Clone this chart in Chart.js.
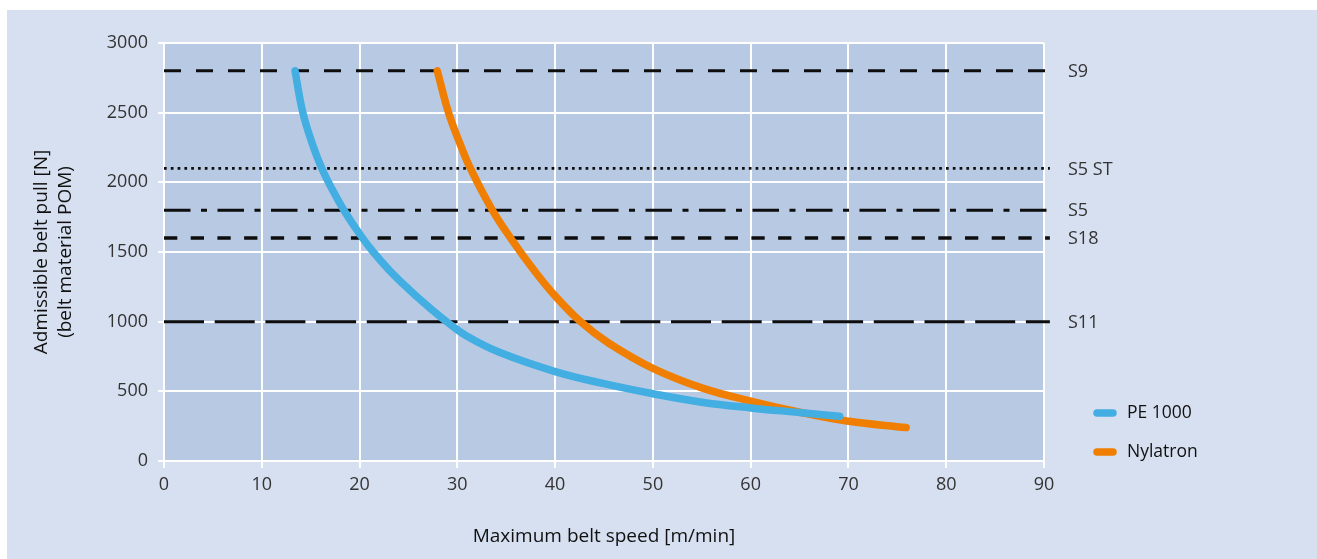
<!DOCTYPE html>
<html>
<head>
<meta charset="utf-8">
<script src="https://cdn.jsdelivr.net/npm/chart.js@4.4.0/dist/chart.umd.min.js"></script>
<style>
  html, body { margin: 0; padding: 0; background: #ffffff; }
  #moldura { position: absolute; left: 7px; top: 10px; width: 1310px; height: 549px; background: #d7e0f0; }
</style>
</head>
<body>
<div id="moldura"><canvas id="grafico" width="1310" height="549"></canvas></div>
<script>
// Dados
const speedPE = [13.4, 14.2, 15.2, 16.2, 17.2, 18.4, 20.2, 21.4, 23.1, 25, 27, 29, 31, 34.3, 40, 45, 50, 55, 60, 65, 69.1];
const pullPE = [2800, 2500, 2270, 2090, 1950, 1800, 1610, 1500, 1365, 1235, 1110, 995, 895, 780, 642, 555, 483, 422, 381, 348, 321];

const speedNylatron = [27.95, 29.1, 30.2, 31.3, 33.5, 35.5, 38, 40, 42.6, 45.5, 50, 55, 60, 65, 70, 75.9];
const pullNylatron = [2800, 2500, 2290, 2105, 1810, 1595, 1355, 1185, 1000, 845, 665, 525, 430, 350, 285, 240];

const seriesNames = ['PE 1000', 'Nylatron'];
const seriesColors = ['#43aee2', '#f07e00'];

// Linhas de referência (tipos de correia)
const refNames = ['S9', 'S5 ST', 'S5', 'S18', 'S11'];
const refValues = [2800, 2100, 1800, 1600, 1000];
const refSpan = [0, 90.6];

const xTicks = [0, 10, 20, 30, 40, 50, 60, 70, 80, 90];
const yTicks = [0, 500, 1000, 1500, 2000, 2500, 3000];

// estilos das linhas de referência
const refStyles = [
    { dash: [17, 15], width: 3 },
    { dash: [2.7, 4.1], width: 2.7 },
    { dash: [26.5, 10.5, 6, 10.5], width: 3 },
    { dash: [13.3, 13.4], width: 3.5 },
    { dash: [40, 10.7], width: 3 }
];

const fonte = '"Open Sans", "Noto Sans", sans-serif';

function pontos(xs, ys) {
    return xs.map((x, i) => ({ x: x, y: ys[i] }));
}

const datasets = [
    {
        label: seriesNames[0],
        data: pontos(speedPE, pullPE),
        borderColor: seriesColors[0],
        borderWidth: 7.5,
        borderCapStyle: 'round',
        borderJoinStyle: 'round',
        tension: 0.4,
        pointRadius: 0,
        fill: false
    },
    {
        label: seriesNames[1],
        data: pontos(speedNylatron, pullNylatron),
        borderColor: seriesColors[1],
        borderWidth: 7.5,
        borderCapStyle: 'round',
        borderJoinStyle: 'round',
        tension: 0.4,
        pointRadius: 0,
        fill: false
    }
];

refValues.forEach((v, i) => {
    datasets.push({
        label: refNames[i],
        data: refSpan.map(x => ({ x: x, y: v })),
        borderColor: '#0d0d0d',
        borderWidth: refStyles[i].width,
        borderDash: refStyles[i].dash,
        borderCapStyle: 'butt',
        pointRadius: 0,
        fill: false,
        clip: false
    });
});

// Fundo da área do gráfico
const fundoPlot = {
    id: 'fundoPlot',
    beforeDraw(chart) {
        const a = chart.chartArea;
        const c = chart.ctx;
        c.save();
        c.fillStyle = '#b8c9e4';
        c.fillRect(a.left, a.top, a.right - a.left, a.bottom - a.top);
        c.restore();
    }
};

// Rótulos das linhas de referência à direita
const rotulosRef = {
    id: 'rotulosRef',
    afterDatasetsDraw(chart) {
        const c = chart.ctx;
        const xs = chart.scales.x;
        const ys = chart.scales.y;
        c.save();
        c.font = '18px ' + fonte;
        c.fillStyle = '#333333';
        c.textAlign = 'left';
        c.textBaseline = 'middle';
        refValues.forEach((v, i) => {
            c.fillText(refNames[i], xs.getPixelForValue(90) + 24, ys.getPixelForValue(v) + 1);
        });
        c.restore();
    }
};

// Legenda desenhada à mão
const legendaLinhas = {
    id: 'legendaLinhas',
    afterDraw(chart) {
        const c = chart.ctx;
        const a = chart.chartArea;
        const x0 = a.right + 53;
        const linhasY = [a.bottom - 48, a.bottom - 9];
        c.save();
        c.font = '17.5px ' + fonte;
        c.textBaseline = 'middle';
        c.textAlign = 'left';
        seriesNames.forEach((nome, i) => {
            c.strokeStyle = seriesColors[i];
            c.lineWidth = 7.5;
            c.lineCap = 'round';
            c.beginPath();
            c.moveTo(x0, linhasY[i]);
            c.lineTo(x0 + 16, linhasY[i]);
            c.stroke();
            c.fillStyle = '#111111';
            c.fillText(nome, x0 + 30, linhasY[i]);
        });
        c.restore();
    }
};

const ctx = document.getElementById('grafico').getContext('2d');
const grafico = new Chart(ctx, {
    type: 'line',
    data: { datasets: datasets },
    options: {
        responsive: false,
        animation: false,
        layout: { padding: { left: 0, top: 33, right: 273, bottom: 0 } },
        plugins: {
            legend: { display: false },
            tooltip: { enabled: false }
        },
        scales: {
            x: {
                type: 'linear',
                min: xTicks[0],
                max: xTicks[xTicks.length - 1],
                afterBuildTicks(scale) { scale.ticks = xTicks.map(v => ({ value: v })); },
                afterFit(scale) { scale.height = 98; },
                grid: { color: '#ffffff', lineWidth: 2, tickLength: 7, drawTicks: true },
                border: { color: '#ffffff', width: 2 },
                ticks: {
                    color: '#333333',
                    font: { family: fonte, size: 18 },
                    padding: 6,
                    callback: v => String(v)
                },
                title: {
                    display: true,
                    text: 'Maximum belt speed [m/min]',
                    color: '#111111',
                    font: { family: fonte, size: 19 },
                    padding: { top: 0, bottom: 11 }
                }
            },
            y: {
                type: 'linear',
                min: yTicks[0],
                max: yTicks[yTicks.length - 1],
                afterBuildTicks(scale) { scale.ticks = yTicks.map(v => ({ value: v })); },
                afterFit(scale) { scale.width = 157; },
                grid: { color: '#ffffff', lineWidth: 2, tickLength: 6, drawTicks: true },
                border: { color: '#ffffff', width: 2 },
                ticks: {
                    color: '#333333',
                    font: { family: fonte, size: 18 },
                    padding: 10,
                    callback: v => String(v)
                },
                title: {
                    display: true,
                    text: ['Admissible belt pull [N]', '(belt material POM)'],
                    color: '#111111',
                    font: { family: fonte, size: 19, lineHeight: 1.3 },
                    padding: { top: 22, bottom: 0 }
                }
            }
        }
    },
    plugins: [fundoPlot, rotulosRef, legendaLinhas]
});
</script>
</body>
</html>
